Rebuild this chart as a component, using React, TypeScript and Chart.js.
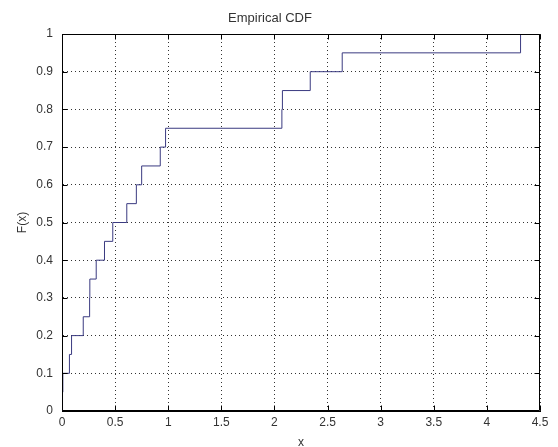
import React, { useEffect, useRef } from "react";
import { Chart, registerables } from "chart.js";

Chart.register(...registerables);

// Empirical CDF step points (x where F jumps, and F after the jump)
const xValues = [0.005, 0.005, 0.008, 0.07, 0.09, 0.2, 0.26, 0.262, 0.322, 0.4, 0.478, 0.61, 0.7, 0.75, 0.925, 0.975, 2.07, 2.075, 2.337, 2.638, 4.317];
const fValues = [0, 0.05, 0.1, 0.15, 0.2, 0.25, 0.3, 0.35, 0.4, 0.45, 0.5, 0.55, 0.6, 0.65, 0.7, 0.75, 0.8, 0.85, 0.9, 0.95, 1];

const xTicks = [0, 0.5, 1, 1.5, 2, 2.5, 3, 3.5, 4, 4.5];
const yTicks = [0, 0.1, 0.2, 0.3, 0.4, 0.5, 0.6, 0.7, 0.8, 0.9, 1];

const titleText = "Empirical CDF";
const xLabel = "x";
const yLabel = "F(x)";

const FONT = "'Liberation Sans', Arial, Helvetica, sans-serif";
const TEXT = "#333";

const boxPlugin = {
  id: "matlabBox",
  afterDraw(chart: any) {
    const { ctx, chartArea } = chart;
    const { left, right, top, bottom } = chartArea;
    const xs = chart.scales.x;
    const ys = chart.scales.y;
    const tl = 5;
    ctx.save();
    ctx.strokeStyle = "#000";
    ctx.lineWidth = 1;
    ctx.beginPath();
    const L = Math.round(left) + 0.5;
    const R = Math.round(right) - 0.5;
    const T = Math.round(top) + 0.5;
    const B = Math.round(bottom) - 0.5;
    ctx.moveTo(L, T);
    ctx.lineTo(R, T);
    ctx.lineTo(R, B);
    ctx.lineTo(L, B);
    ctx.closePath();
    for (const v of xTicks) {
      const px = Math.round(xs.getPixelForValue(v)) + 0.5;
      ctx.moveTo(px, B);
      ctx.lineTo(px, B - tl);
      ctx.moveTo(px, T);
      ctx.lineTo(px, T + tl);
    }
    for (const v of yTicks) {
      const py = Math.round(ys.getPixelForValue(v)) + 0.5;
      ctx.moveTo(L, py);
      ctx.lineTo(L + tl, py);
      ctx.moveTo(R, py);
      ctx.lineTo(R - tl, py);
    }
    ctx.stroke();
    ctx.restore();
  },
};

export default function App() {
  const ref = useRef<HTMLCanvasElement | null>(null);

  useEffect(() => {
    if (!ref.current) return;
    const points = xValues.map((x, i) => ({ x, y: fValues[i] }));
    const chart = new Chart(ref.current, {
      type: "line",
      data: {
        datasets: [
          {
            data: points,
            borderColor: "#3a3a80",
            borderWidth: 1,
            pointRadius: 0,
            stepped: "before",
            fill: false,
          },
        ],
      },
      options: {
        responsive: false,
        animation: false,
        events: [],
        layout: { padding: { left: 0, right: 18, top: 0, bottom: 0 } },
        plugins: {
          legend: { display: false },
          tooltip: { enabled: false },
          title: {
            display: true,
            text: titleText,
            color: TEXT,
            font: { family: FONT, size: 13, weight: "normal" },
            padding: { top: 10.2, bottom: 8.2 },
          },
        },
        scales: {
          x: {
            type: "linear",
            min: 0,
            max: 4.5,
            afterBuildTicks: (s: any) => {
              s.ticks = xTicks.map((v) => ({ value: v }));
            },
            afterFit: (s: any) => {
              s.height = 36;
            },
            ticks: {
              color: TEXT,
              font: { family: FONT, size: 12 },
              padding: 4.5,
              maxRotation: 0,
              autoSkip: false,
              callback: (v: any) => String(v),
            },
            grid: { color: "rgba(0,0,0,0.8)", drawTicks: false, lineWidth: 1 },
            border: { display: true, color: "#000", width: 1, dash: [1, 3] },
            title: {
              display: true,
              text: xLabel,
              color: TEXT,
              font: { family: FONT, size: 12 },
              padding: { top: 0, bottom: -2.7 },
            },
          },
          y: {
            type: "linear",
            min: 0,
            max: 1,
            afterBuildTicks: (s: any) => {
              s.ticks = yTicks.map((v) => ({ value: v }));
            },
            afterFit: (s: any) => {
              s.width = 62;
            },
            ticks: {
              color: TEXT,
              font: { family: FONT, size: 12 },
              padding: 9,
              autoSkip: false,
              callback: (v: any) => String(v),
            },
            grid: { color: "rgba(0,0,0,0.8)", drawTicks: false, lineWidth: 1 },
            border: { display: true, color: "#000", width: 1, dash: [1, 3] },
            title: {
              display: true,
              text: yLabel,
              color: TEXT,
              font: { family: FONT, size: 12 },
              padding: { top: 15.3, bottom: 0 },
            },
          },
        },
      },
      plugins: [boxPlugin],
    });
    return () => chart.destroy();
  }, []);

  return (
    <div style={{ position: "absolute", left: 0, top: 0, width: 558, height: 447, background: "#fff" }}>
      <canvas ref={ref} width={558} height={447} style={{ display: "block" }} />
    </div>
  );
}
